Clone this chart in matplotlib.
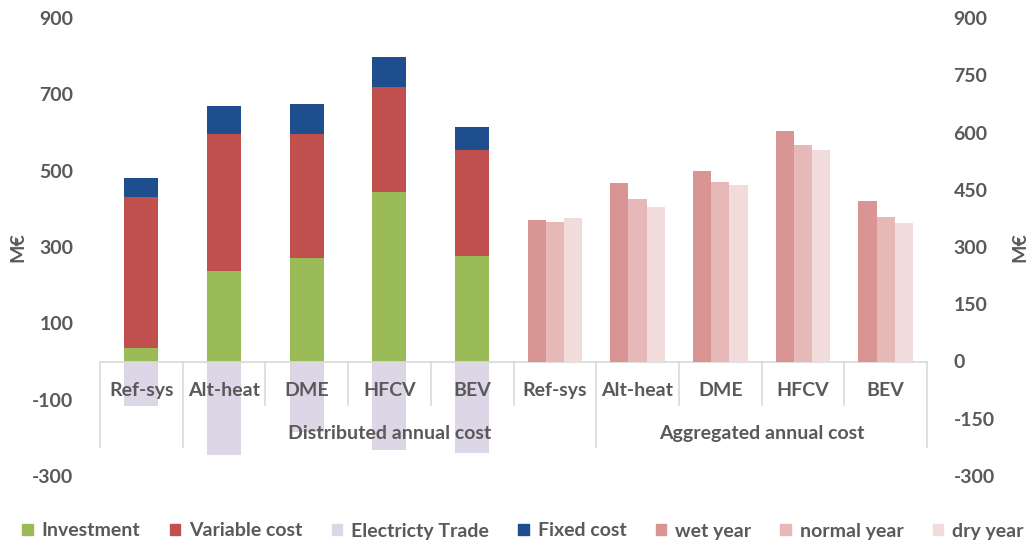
import matplotlib
matplotlib.use("Agg")
import matplotlib.pyplot as plt
from matplotlib.patches import Patch
import numpy as np

plt.rcParams['font.family'] = ['Lato', 'DejaVu Sans']
plt.rcParams['axes.unicode_minus'] = False

# Categories along the bottom
scenarios = ["Ref-sys", "Alt-heat", "DME", "HFCV", "BEV"]
categories = scenarios + scenarios
group_labels = ["Distributed annual cost", "Aggregated annual cost"]

# Distributed annual cost components (M€)
investment = [35, 238, 272, 443, 276]
variable_cost = [395, 358, 323, 277, 278]
electricity_trade = [-117, -245, -185, -232, -240]
fixed_cost = [50, 73, 79, 78, 61]

# Aggregated annual cost by hydrological year (M€)
wet_year = [371, 467, 500, 605, 420]
normal_year = [366, 425, 471, 568, 379]
dry_year = [375, 405, 462, 554, 362]

left_ticks = [-300, -100, 100, 300, 500, 700, 900]
right_ticks = [-300, -150, 0, 150, 300, 450, 600, 750, 900]

c_inv = "#9BBB59"
c_var = "#C0504D"
c_trade = "#DCD6E6"
c_fixed = "#1F4E8F"
c_wet = "#D99594"
c_normal = "#E6B9B8"
c_dry = "#F2DCDB"
txt = "#595959"
line_c = "#D9D9D9"
fs = 14
fw = 'bold'

fig = plt.figure(figsize=(10.31, 5.45), dpi=100)
ax = fig.add_axes([100 / 1031, 1 - 476 / 545, 827 / 1031, 458 / 545])
ax2 = ax.twinx()

x_dist = np.arange(5)
x_agg = np.arange(5) + 5
w = 0.41
inv = np.array(investment)
var = np.array(variable_cost)

ax.bar(x_dist, electricity_trade, w, color=c_trade, zorder=1)
ax.bar(x_dist, inv, w, color=c_inv, zorder=2)
ax.bar(x_dist, var, w, bottom=inv, color=c_var, zorder=2)
ax.bar(x_dist, fixed_cost, w, bottom=inv + var, color=c_fixed, zorder=2)

wa = 0.22
ax2.bar(x_agg - wa, wet_year, wa, color=c_wet, zorder=2)
ax2.bar(x_agg, normal_year, wa, color=c_normal, zorder=2)
ax2.bar(x_agg + wa, dry_year, wa, color=c_dry, zorder=2)

for a in (ax, ax2):
    a.set_ylim(-300, 900)
    a.set_xlim(-0.5, 9.5)
    for s in a.spines.values():
        s.set_visible(False)
    a.tick_params(axis='both', length=0, labelsize=fs, labelcolor=txt, pad=19)
    a.set_xticks([])

ax.set_yticks(left_ticks)
ax2.set_yticks(right_ticks)
for lab in ax.get_yticklabels() + ax2.get_yticklabels():
    lab.set_fontweight(fw)

ax.set_ylabel("M€", fontsize=fs, color=txt, fontweight=fw, labelpad=4)
ax2.set_ylabel("M€", fontsize=fs, color=txt, fontweight=fw, labelpad=12)

# Category axis drawn as a two-level table below zero
ax.axhline(0, color=line_c, lw=1.2, zorder=3)
for i, name in enumerate(categories):
    ax.text(i, -77, name, ha='center', va='center', fontsize=fs,
            color=txt, fontweight=fw, zorder=4)
long_edges = [-0.5, 0.5, 5.5, 9.5]
for b in np.arange(-0.5, 10, 1.0):
    bottom = -224 if b in long_edges else -114
    ax.plot([b, b], [0, bottom], color=line_c, lw=1.2, zorder=3, clip_on=False)
ax.text(3.0, -188, group_labels[0], ha='center', va='center', fontsize=fs,
        color=txt, fontweight=fw, zorder=4)
ax.text(7.5, -188, group_labels[1], ha='center', va='center', fontsize=fs,
        color=txt, fontweight=fw, zorder=4)

handles = [
    Patch(color=c_inv, label="Investment"),
    Patch(color=c_var, label="Variable cost"),
    Patch(color=c_trade, label="Electricty Trade"),
    Patch(color=c_fixed, label="Fixed cost"),
    Patch(color=c_wet, label="wet year"),
    Patch(color=c_normal, label="normal year"),
    Patch(color=c_dry, label="dry year"),
]
leg = fig.legend(handles=handles, loc='center', ncol=7, frameon=False,
                 bbox_to_anchor=(523 / 1031, 1 - 531 / 545), fontsize=fs,
                 handlelength=0.55, handleheight=0.55, handletextpad=0.45,
                 columnspacing=1.5, borderpad=0, borderaxespad=0)
for t in leg.get_texts():
    t.set_color(txt)
    t.set_fontweight(fw)

fig.savefig("out.png", dpi=100)
